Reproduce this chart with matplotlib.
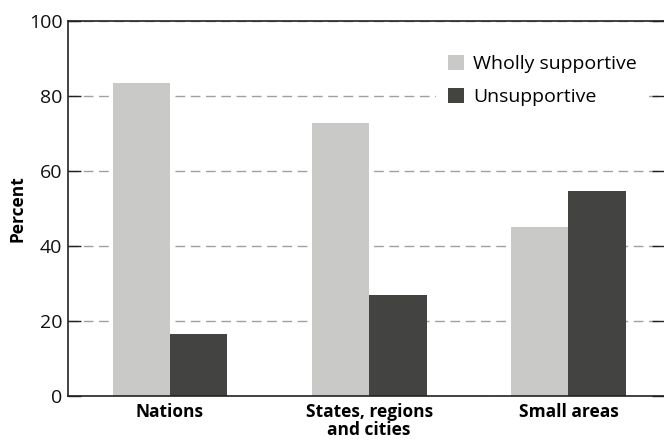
import matplotlib
matplotlib.use("Agg")
import matplotlib.pyplot as plt
import numpy as np

plt.rcParams['font.family'] = ['Open Sans', 'DejaVu Sans']

categories = ["Nations", "States, regions\nand cities", "Small areas"]
wholly = [83.5, 72.8, 45.1]
unsupportive = [16.5, 26.9, 54.7]
series_names = ["Wholly supportive", "Unsupportive"]
yticks = [0, 20, 40, 60, 80, 100]

light = "#c9c9c7"
dark = "#434341"

fig = plt.figure(figsize=(6.64, 4.48), dpi=100)
ax = fig.add_axes([68/664, 52/448, 1 - 68/664, 374.5/448])

x = np.arange(len(categories))
w = 0.288
ax.bar(x - w/2, wholly, w, color=light, label=series_names[0], zorder=2)
ax.bar(x + w/2, unsupportive, w, color=dark, label=series_names[1], zorder=2)

ax.set_xlim(-0.512, 2.48)
ax.set_ylim(0, 100)
ax.set_yticks(yticks)
ax.yaxis.grid(True, linestyle=(0, (7, 4)), color="#a0a0a0", linewidth=1, zorder=0)
ax.set_axisbelow(True)

ax.spines['right'].set_visible(False)
for s in ['left', 'top', 'bottom']:
    ax.spines[s].set_linewidth(1.2)
    ax.spines[s].set_color("#222222")

ax.tick_params(axis='y', direction='in', length=9, width=1, labelsize=14, pad=4,
               right=True, colors="#222222")
ax.tick_params(axis='y', labelcolor="#111111")
ax.set_xticks(x)
ax.set_xticklabels(categories, fontsize=12.5, fontweight='bold', linespacing=1.0)
ax.tick_params(axis='x', length=0, pad=5)
ax.set_ylabel("Percent", fontsize=12.5, fontweight='bold')
ax.yaxis.set_label_coords(-0.07, 0.5)

leg = ax.legend(loc='upper right', bbox_to_anchor=(0.99, 0.968), fontsize=14,
                frameon=True, facecolor='white', edgecolor='none', framealpha=1,
                handlelength=0.85, handleheight=0.85, handletextpad=0.45,
                labelspacing=0.75, borderpad=0.6)

fig.savefig("out.png", dpi=100)
